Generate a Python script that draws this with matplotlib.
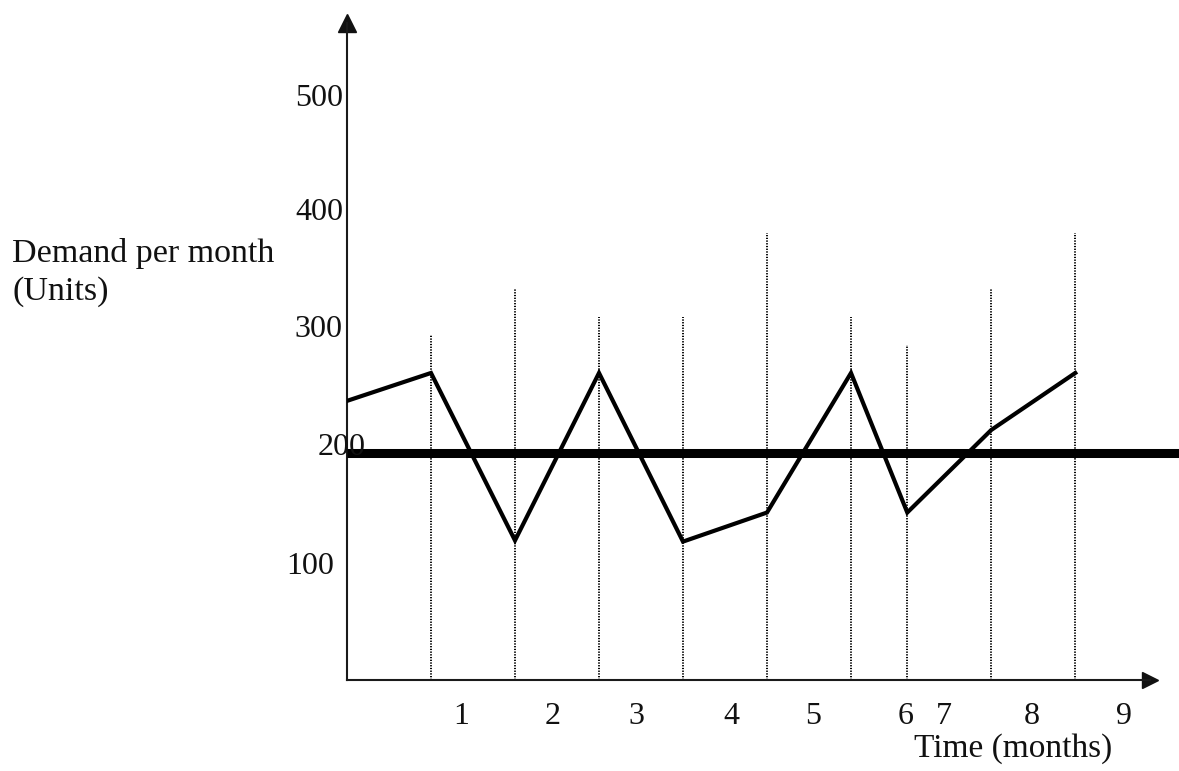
import matplotlib
matplotlib.use("Agg")
import matplotlib.pyplot as plt

plt.rcParams.update({"font.family": "Liberation Serif", "font.size": 24})

# month positions of the points (the 6 -> 7 gap is shorter in the original sketch)
months = [0, 1, 2, 3, 4, 5, 6, 6.67, 7.67, 8.67]
demand = [240, 264, 120, 264, 119, 144, 264, 144, 215, 264]
avg_demand = 195

# dotted guide lines: one per point after the first, each with its own height
guide_x = months[1:]
guide_top = [297, 337, 312, 312, 384, 312, 288, 337, 384]

# axis labels (sketch style, placed by hand)
ytick_vals = [500, 400, 300, 200, 100]
ytick_text = ["500", "400", "300", "200", "100"]
xtick_text = ["1", "2", "3", "4", "5", "6", "7", "8", "9"]

W, H = 1179, 771
fig = plt.figure(figsize=(W / 100, H / 100), dpi=100)
x0, y0, x1, y1 = 347, 680, 1150, 22.5          # axes box in pixels (top-left origin)
ax = fig.add_axes([x0 / W, (H - y0) / H, (x1 - x0) / W, (y0 - y1) / H])
px_x, px_y = 84, 1.163                          # pixels per month / per unit
ax.set_xlim(0, (x1 - x0) / px_x)
ax.set_ylim(0, (y0 - y1) / px_y)
ax.patch.set_alpha(0)
ax.set_xticks([])
ax.set_yticks([])
for s in ["top", "right"]:
    ax.spines[s].set_visible(False)
for s in ["left", "bottom"]:
    ax.spines[s].set_linewidth(1.5)
    ax.spines[s].set_color("#1a1a1a")

# arrowheads at the ends of the axes
ax.plot(1, 0, ">", color="#111", ms=12, transform=ax.get_yaxis_transform(), clip_on=False)
ax.plot(0, 1, "^", color="#111", ms=13, transform=ax.get_xaxis_transform(), clip_on=False)

# dotted month guides
for gx, gt in zip(guide_x, guide_top):
    ax.plot([gx, gx], [0, gt], color="#000", lw=1.4, ls=(0, (0.65, 0.75)), zorder=2)

# average demand line, runs past the axis to the edge of the picture
ax.plot([0, (W - x0) / px_x], [avg_demand, avg_demand], color="black", lw=6.5,
        solid_capstyle="butt", clip_on=False, zorder=4)

# monthly demand
ax.plot(months, demand, color="black", lw=3, solid_joinstyle="miter", zorder=5)

# y labels, hand-placed like the sketch (x centre, y centre in pixels)
ylab_px = [(319, 98), (319, 212), (318, 329), (342, 447), (310, 566)]
for t, (lx, ly) in zip(ytick_text, ylab_px):
    fig.text(lx / W, 1 - ly / H, t, ha="center", va="center", fontsize=23,
             color="#111", zorder=1)

xlab_px = [461, 553, 636, 731, 813, 906, 944, 1032, 1124]
for t, lx in zip(xtick_text, xlab_px):
    fig.text(lx / W, 1 - 717 / H, t, ha="center", va="center", fontsize=23, color="#111")

fig.text(1013 / W, 1 - 749 / H, "Time (months)", ha="center", va="center",
         fontsize=24, color="#111")
fig.text(12 / W, 1 - 262 / H, "Demand per month", ha="left", va="baseline",
         fontsize=24.5, color="#111")
fig.text(12 / W, 1 - 300 / H, "(Units)", ha="left", va="baseline",
         fontsize=24.5, color="#111")

fig.savefig("out.png", dpi=100)
